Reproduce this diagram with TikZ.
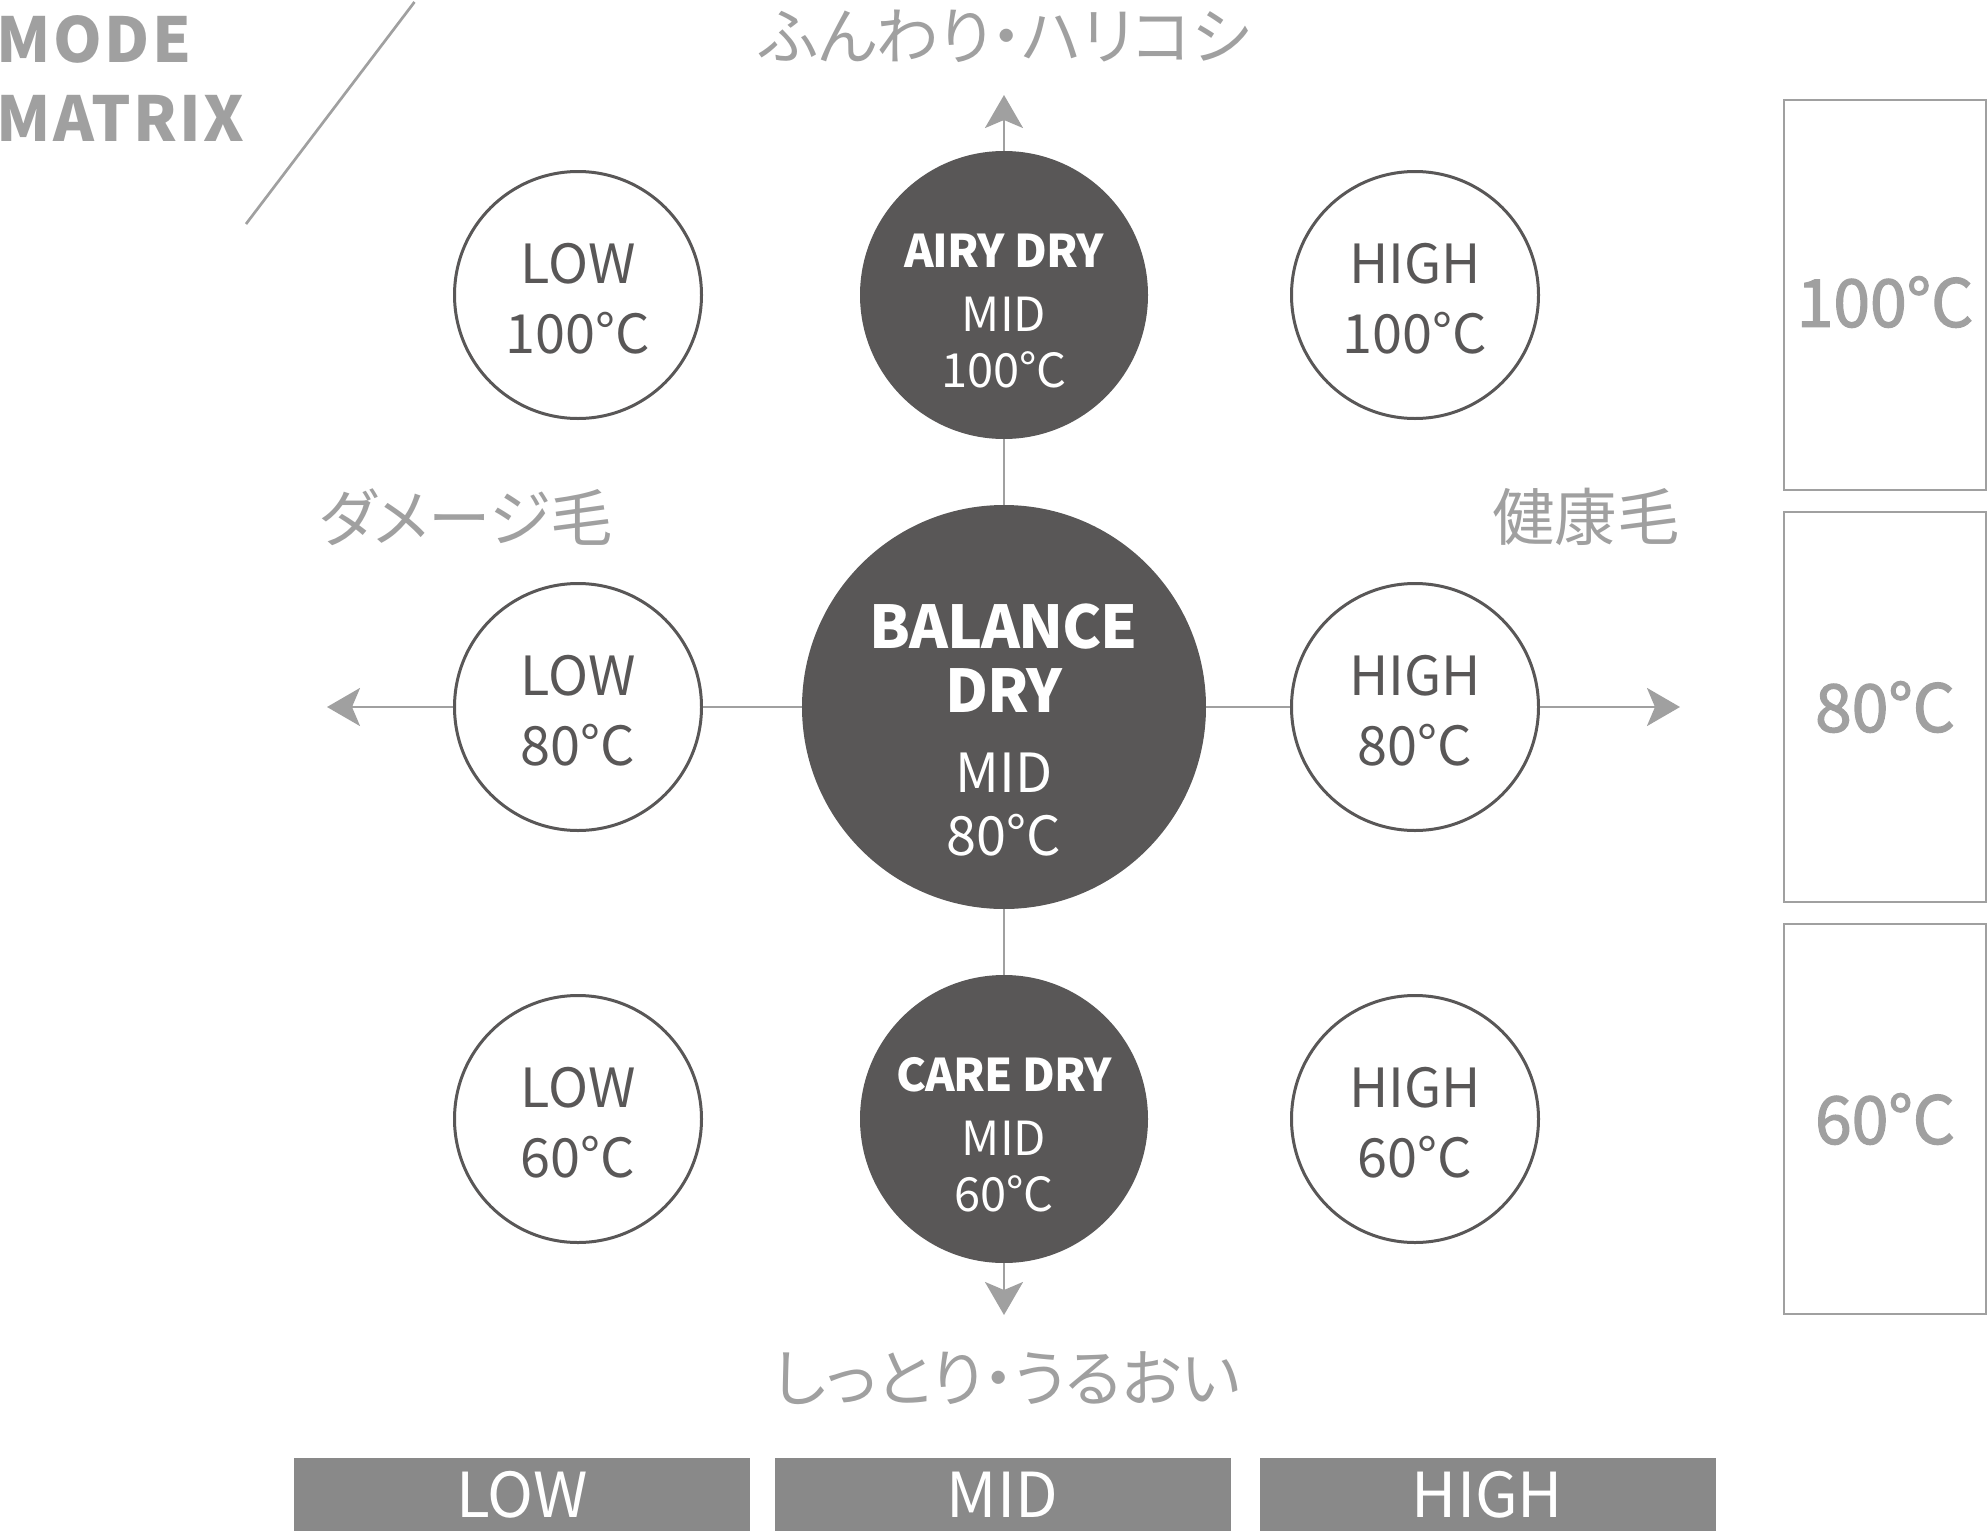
\documentclass[tikz,border=0pt]{standalone}
\usepackage{fontspec}
\setmainfont{Noto Sans CJK JP}
\newfontface\medface[FakeBold=2]{Noto Sans CJK JP}
\newfontfamily\modefam[LetterSpace=4]{Noto Sans CJK JP}
\newfontfamily\tightfam[LetterSpace=-2]{Noto Sans CJK JP}
\newfontfamily\jpfam[RawFeature=+palt]{Noto Sans CJK JP}
\usetikzlibrary{arrows.meta}
\definecolor{dk}{HTML}{595757}
\definecolor{lg}{HTML}{A0A0A0}
\definecolor{barc}{HTML}{898989}
\newcommand\fsmall{\fontsize{27}{35}\selectfont}
\newcommand\fmid{\fontsize{23.5}{27.8}\selectfont}
\newcommand\fmidb{\tightfam\fontsize{22.5}{22.5}\selectfont\bfseries}
\newcommand\fbal{\fontsize{27}{31.7}\selectfont}
\newcommand\fbalb{\tightfam\fontsize{29.5}{29.5}\selectfont\bfseries}
\tikzset{
  smallc/.style={circle, draw=dk, line width=1.5pt, fill=white, minimum size=123.5pt, inner sep=0pt},
  midc/.style={circle, fill=dk, minimum size=144pt, inner sep=0pt},
  balc/.style={circle, fill=dk, minimum size=202pt, inner sep=0pt},
  smalltxt/.style={text=dk, align=center, font=\fsmall, inner sep=0pt},
  midtxt/.style={text=white, align=center, font=\fmid, inner sep=0pt},
  baltxt/.style={text=white, align=center, font=\fbal, inner sep=0pt},
  conn/.style={draw=lg, line width=1.35pt},
  arr/.style={conn, -{Stealth[length=16.5pt, width=19pt, inset=4pt]}},
  tempbox/.style={rectangle, draw=lg, line width=1.35pt, minimum width=101pt, minimum height=195pt, inner sep=0pt},
  temptxt/.style={text=lg, inner sep=0pt, font=\medface\fontsize{33}{33}\selectfont},
  barbox/.style={rectangle, fill=barc, minimum width=228pt, minimum height=36.5pt, inner sep=0pt, text=white, font=\fontsize{31}{31}\selectfont},
  jplabel/.style={text=lg, inner sep=0pt, font=\jpfam\fontsize{31.2}{31.2}\selectfont},
  modetxt/.style={text=lg, inner sep=0pt, anchor=base west, font=\modefam\bfseries\fontsize{31}{31}\selectfont}
}
\begin{document}
\begin{tikzpicture}[x=0.5pt, y=-0.5pt]
\useasboundingbox (0,0) rectangle (1988,1531);

% title
\node[modetxt] (mode) at (-4,62) {MODE};
\node[modetxt] (matrix) at (-4,141) {MATRIX};
\coordinate (slashA) at (414.5,2);
\coordinate (slashB) at (246,224);
\draw[conn] (slashA) -- (slashB);

% circles
\node[smallc, label={[smalltxt, name=t1, yshift=-1.8pt]center:{LOW\\100°C}}] (low100) at (578,295) {};
\node[smallc, label={[smalltxt, name=t2, yshift=-1.8pt]center:{HIGH\\100°C}}] (high100) at (1415,295) {};
\node[smallc, label={[smalltxt, name=t3, yshift=-1.8pt]center:{LOW\\80°C}}] (low80) at (578,707) {};
\node[smallc, label={[smalltxt, name=t4, yshift=-1.8pt]center:{HIGH\\80°C}}] (high80) at (1415,707) {};
\node[smallc, label={[smalltxt, name=t5, yshift=-1.8pt]center:{LOW\\60°C}}] (low60) at (578,1119) {};
\node[smallc, label={[smalltxt, name=t6, yshift=-1.8pt]center:{HIGH\\60°C}}] (high60) at (1415,1119) {};

\node[midc, label={[midtxt, name=t7, yshift=-7.9pt]center:{{\fmidb AIRY DRY}\\[4.4pt]MID\\100°C}}] (airy) at (1004,295) {};
\node[midc, label={[midtxt, name=t8, yshift=-7.9pt]center:{{\fmidb CARE DRY}\\[4.4pt]MID\\60°C}}] (care) at (1004,1119) {};
\node[balc, label={[baltxt, name=t9, yshift=-11.5pt]center:{{\fbalb BALANCE}\\[0.3pt]{\fbalb DRY}\\[8pt]MID\\80°C}}] (bal) at (1004,707) {};

% connectors
\coordinate (tipU) at (1004,95);
\coordinate (tipD) at (1004,1315);
\coordinate (tipL) at (327,707);
\coordinate (tipR) at (1680,707);
\draw[conn] (airy) -- (bal);
\draw[conn] (bal) -- (care);
\draw[conn] (low80) -- (bal);
\draw[conn] (bal) -- (high80);
\draw[arr] (airy) -- (tipU);
\draw[arr] (care) -- (tipD);
\draw[arr] (low80) -- (tipL);
\draw[arr] (high80) -- (tipR);

% axis labels
\node[jplabel] (up) at (1005,36) {ふんわり・ハリコシ};
\node[jplabel] (down) at (1007,1378) {しっとり・うるおい};
\node[jplabel] (left) at (466,517) {ダメージ毛};
\node[jplabel] (right) at (1586,517) {健康毛};

% temperature boxes
\node[tempbox, label={[temptxt, name=tb1, yshift=-3.5pt]center:100°C}] (b100) at (1885,295) {};
\node[tempbox, label={[temptxt, name=tb2]center:80°C}] (b80) at (1885,707) {};
\node[tempbox, label={[temptxt, name=tb3]center:60°C}] (b60) at (1885,1119) {};

% bottom bars
\node[barbox] (barL) at (522,1494.5) {LOW};
\node[barbox] (barM) at (1002.5,1494.5) {MID};
\node[barbox] (barH) at (1487.5,1494.5) {HIGH};
\end{tikzpicture}
\end{document}
